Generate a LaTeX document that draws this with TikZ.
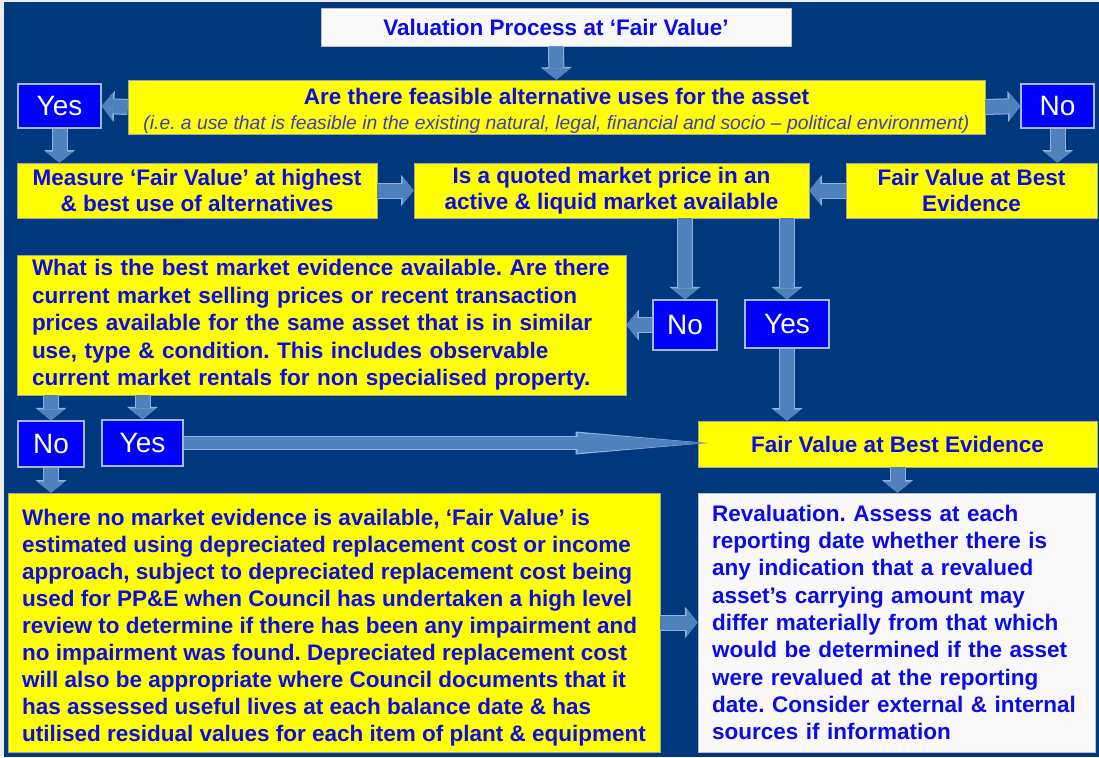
\documentclass[tikz,border=0pt]{standalone}
\usepackage{fontspec}
\setmainfont{Liberation Sans}
\usepackage{xcolor}
\usepackage{tikz}
\usetikzlibrary{arrows.meta, positioning, calc}
\definecolor{deepnavy}{RGB}{0, 56, 125}
\definecolor{slideyellow}{RGB}{255, 255, 0}
\definecolor{textblue}{RGB}{10, 10, 235}
\definecolor{italicblue}{RGB}{60, 60, 200}
\definecolor{answerblue}{RGB}{0, 0, 255}
\definecolor{answeredge}{RGB}{165, 185, 220}
\definecolor{arrowsteel}{RGB}{79, 129, 189}
\definecolor{arrowedge}{RGB}{150, 178, 218}
\definecolor{palegrey}{RGB}{248, 248, 248}
\frenchspacing

\begin{document}
\begin{tikzpicture}[x=1pt, y=-1pt,
    yellowbox/.style={draw=gray!70, line width=0.8pt, fill=slideyellow, text=textblue,
        font=\fontsize{22.5}{26}\selectfont\bfseries, align=center, inner sep=0pt},
    whitebox/.style={yellowbox, fill=palegrey, draw=gray!50},
    answer/.style={draw=answeredge, line width=1.5pt, fill=answerblue, text=white,
        font=\fontsize{28}{30}\selectfont, inner sep=0pt},
    fatarrow/.style={draw=arrowsteel, line width=14pt,
        -{Triangle[width=28pt, length=11pt, line width=0pt]},
        preaction={draw=arrowedge, line width=16pt,
            -{Triangle[width=31pt, length=12.5pt, line width=0pt]}}},
    longarrow/.style={draw=arrowsteel, line width=12pt,
        -{Triangle[width=20pt, length=130pt, line width=0pt]},
        preaction={draw=arrowedge, line width=14pt,
            -{Triangle[width=23pt, length=132pt, line width=0pt]}}}]

    % Slide background
    \useasboundingbox (0,0) rectangle (1099,757);
    \fill[gray!15] (0,0) rectangle (1099,757);
    \fill[deepnavy] (4,2) rectangle (1099,757);

    % Question boxes
    \node[whitebox, minimum width=470pt, minimum height=38pt] (title) at (556,27) {Valuation Process at ‘Fair Value’};
    \node[yellowbox, minimum width=857pt, minimum height=54pt, font=\fontsize{22.5}{25}\selectfont\bfseries] (alt) at (556.5,107)
        {\rule{0pt}{25pt}Are there feasible alternative uses for the asset\\
         {\fontsize{19.3}{22}\selectfont\mdseries\itshape\color{italicblue}(i.e. a use that is feasible in the existing natural, legal, financial and socio – political environment)}};
    \node[answer, minimum width=83pt, minimum height=44pt] (yesalt) at (59.5,106) {Yes};
    \node[answer, minimum width=73pt, minimum height=44pt] (noalt) at (1057.5,106) {No};

    \node[yellowbox, minimum width=360pt, minimum height=55pt] (highest) at (197,190.5) {Measure ‘Fair Value’ at highest\\ \& best use of alternatives};
    \node[yellowbox, minimum width=395pt, minimum height=55pt] (quoted) at (611.5,190.5) {Is a quoted market price in an\\ active \& liquid market available};
    \node[yellowbox, minimum width=251pt, minimum height=55pt] (bestev) at (971.5,190.5) {Fair Value at Best\\ Evidence};

    \node[yellowbox, align=left, text width=579pt, inner xsep=15pt, minimum height=140pt, font=\fontsize{22.5}{27.5}\selectfont\bfseries] (evidence) at (321.5,325)
        {What is the best market evidence available. Are there\\
         current market selling prices or recent transaction\\
         prices available for the same asset that is in similar\\
         use, type \& condition. This includes observable\\
         current market rentals for non specialised property.};
    \node[answer, minimum width=64pt, minimum height=50pt] (noquoted) at (685,325) {No};
    \node[answer, minimum width=84pt, minimum height=48pt] (yesquoted) at (787,324) {Yes};

    \node[answer, minimum width=66pt, minimum height=46pt] (noev) at (51,444) {No};
    \node[answer, minimum width=81pt, minimum height=46pt] (yesev) at (142.5,443) {Yes};
    \node[yellowbox, minimum width=399pt, minimum height=46pt] (fairbest) at (897.5,444) {Fair Value at Best Evidence};

    % Outcome boxes
    \node[yellowbox, align=left, minimum width=652pt, minimum height=259pt, font=\fontsize{22.5}{27}\selectfont\bfseries] (nomarket) at (334,622.5)
        {\rule{0pt}{27pt}Where no market evidence is available, ‘Fair Value’ is\\
         estimated using depreciated replacement cost or income\\
         approach, subject to depreciated replacement cost being\\
         used for PP\&E when Council has undertaken a high level\\
         review to determine if there has been any impairment and\\
         no impairment was found. Depreciated replacement cost\\
         will also be appropriate where Council documents that it\\
         has assessed useful lives at each balance date \& has\\
         utilised residual values for each item of plant \& equipment};
    \node[whitebox, align=left, text width=369pt, inner xsep=14pt, minimum height=259pt, font=\fontsize{22.5}{27.3}\selectfont\bfseries] (reval) at (896.5,622.5)
        {Revaluation. Assess at each\\
         reporting date whether there is\\
         any indication that a revalued\\
         asset’s carrying amount may\\
         differ materially from that which\\
         would be determined if the asset\\
         were revalued at the reporting\\
         date. Consider external \& internal\\
         sources if information};

    % Block arrows
    \draw[fatarrow] (title.south) -- (alt.north);
    \draw[fatarrow] (alt.west) -- (yesalt.east);
    \draw[fatarrow] (alt.east) -- (noalt.west);
    \draw[fatarrow] (yesalt.south) -- (yesalt.south |- highest.north);
    \draw[fatarrow] (noalt.south) -- (noalt.south |- bestev.north);
    \draw[fatarrow] (highest.east) -- (quoted.west);
    \draw[fatarrow] (bestev.west) -- (quoted.east);
    \draw[fatarrow] (noquoted.north |- quoted.south) -- (noquoted.north);
    \draw[fatarrow] (yesquoted.north |- quoted.south) -- (yesquoted.north);
    \draw[fatarrow] (noquoted.west) -- (noquoted.west -| evidence.east);
    \draw[fatarrow] (yesquoted.south) -- (yesquoted.south |- fairbest.north);
    \draw[fatarrow] (noev.north |- evidence.south) -- (noev.north);
    \draw[fatarrow] (yesev.north |- evidence.south) -- (yesev.north);
    \draw[fatarrow] (noev.south) -- (noev.south |- nomarket.north);
    \draw[fatarrow] (fairbest.south) -- (fairbest.south |- reval.north);
    \draw[fatarrow] (nomarket.east) -- (nomarket.east -| reval.west);
    \draw[longarrow] (yesev.east) -- ([xshift=10pt]yesev.east -| fairbest.west);

\end{tikzpicture}
\end{document}
